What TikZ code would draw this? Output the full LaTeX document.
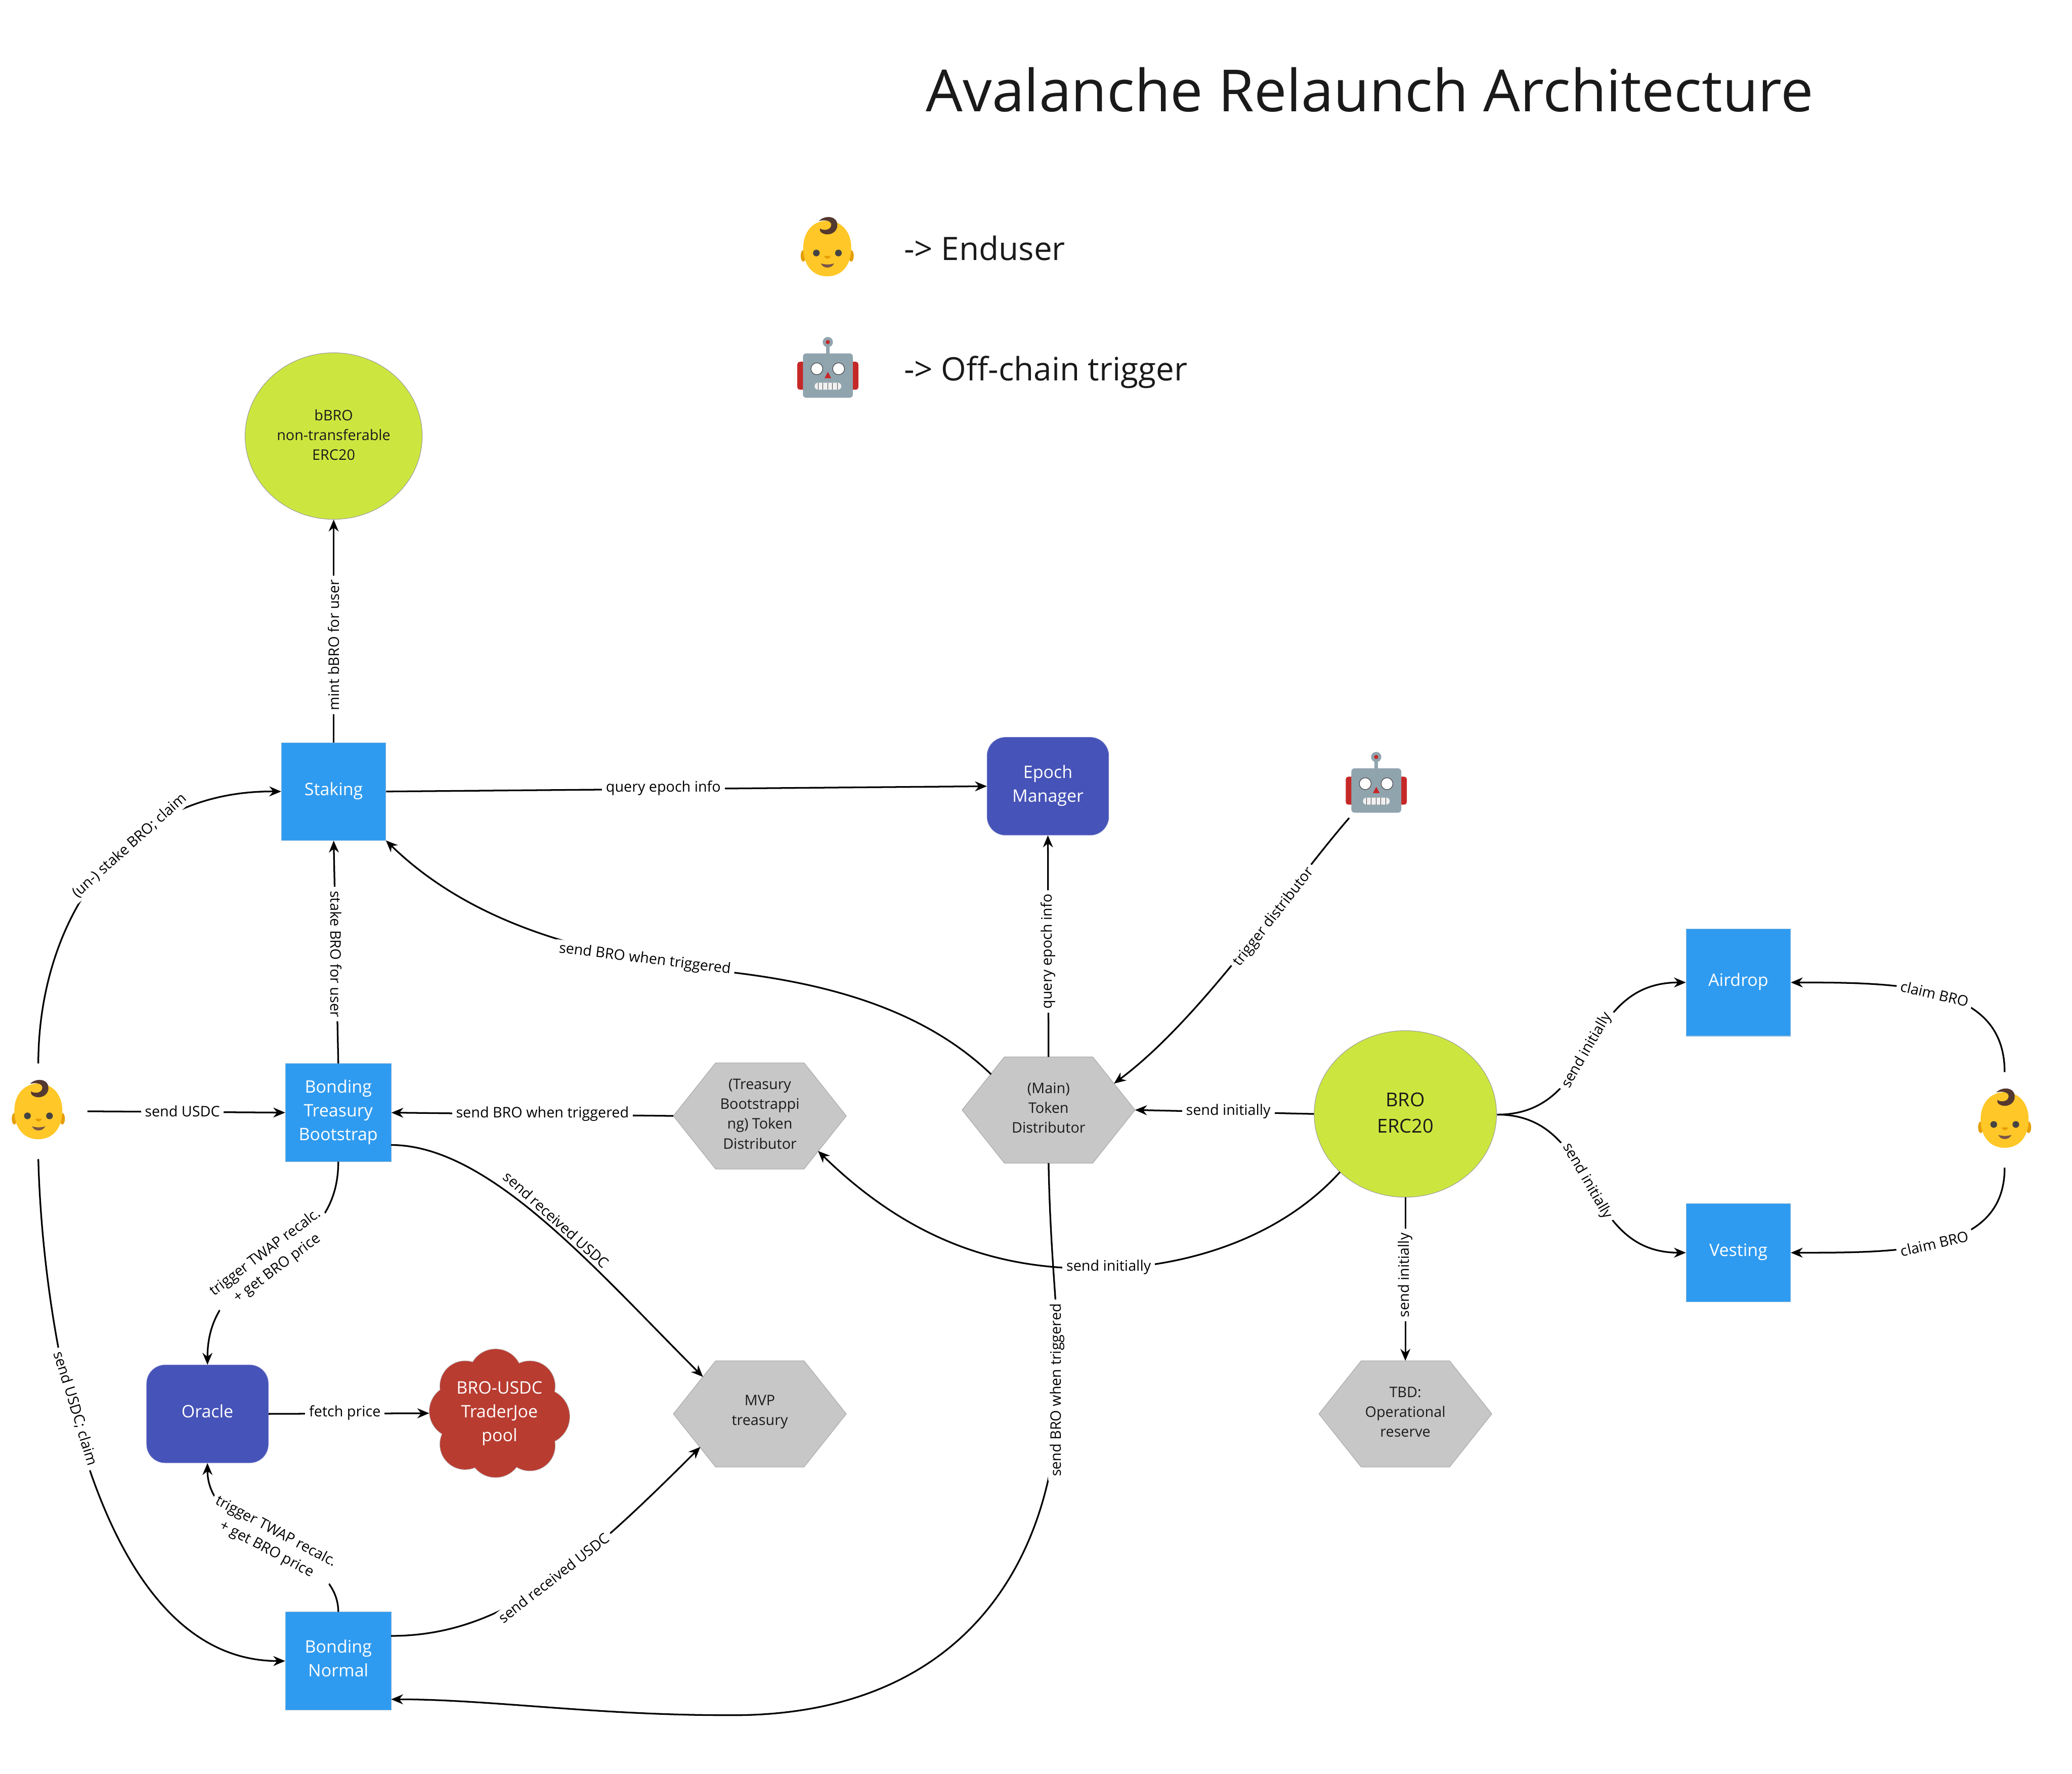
\documentclass[tikz,border=0pt]{standalone}
\usepackage{fontspec}
\setmainfont{Open Sans}
\usetikzlibrary{arrows.meta,shapes.geometric}
\definecolor{cblue}{HTML}{2F9BF0}
\definecolor{cindigo}{HTML}{4653B8}
\definecolor{cgreen}{HTML}{CDE63F}
\definecolor{cgrey}{HTML}{C7C7C7}
\definecolor{cred}{HTML}{B93C31}
\definecolor{cink}{HTML}{1A1A1A}
\definecolor{cyel}{HTML}{FFC727}
\definecolor{cear}{HTML}{E59E05}
\definecolor{chair}{HTML}{543930}
\definecolor{ceye}{HTML}{444444}
\definecolor{cmouth}{HTML}{795548}
\definecolor{cgun}{HTML}{90A4AE}
\definecolor{crob}{HTML}{C62828}
\newcommand{\hexnode}[4]{%
  \node (#1) [hexframe] at (#2,#3) {};
  \filldraw[hexface] (#1.west) -- ([xshift=32pt]#1.north west) -- ([xshift=-32pt]#1.north east) -- (#1.east) -- ([xshift=-32pt]#1.south east) -- ([xshift=32pt]#1.south west) -- cycle;
  \node (#1text) [hextext,yshift=1.5pt] at (#1) {#4};
}
\tikzset{
  x=1pt,y=-1pt,
  boxn/.style={rectangle,draw=cblue!80!black!60,line width=.4pt,fill=cblue,text=white,inner sep=0pt,align=center,text depth=4pt,font=\fontsize{13}{18}\selectfont},
  roundn/.style={boxn,rounded corners=14pt,fill=cindigo,draw=cindigo!80},
  oval/.style={ellipse,draw=black!40,line width=.4pt,fill=cgreen,inner sep=0pt,align=center,text=cink,text depth=2pt},
  hexframe/.style={rectangle,minimum width=130.5pt,minimum height=80pt,inner sep=0pt},
  hexface/.style={fill=cgrey,draw=black!35,line width=.4pt},
  hextext/.style={rectangle,inner sep=0pt,align=center,text=cink,font=\fontsize{11}{15}\selectfont},
  lab/.style={fill=white,inner xsep=3pt,inner ysep=1.5pt,align=center,text=black,font=\fontsize{11}{15}\selectfont},
  emojibox/.style={rectangle,minimum width=74pt,minimum height=72pt,inner sep=0pt},
  conn/.style={-{Stealth[length=9pt,width=7.5pt]},line width=1.25pt,black},
  baby/.pic={
    \begin{scope}[scale=0.121,shift={(-320,-281)}]
      \fill[cear] (170,340) ellipse [x radius=16,y radius=36];
      \fill[cear] (470,340) ellipse [x radius=16,y radius=36];
      \fill[cyel] (320,120) .. controls (410,120) and (470,190) .. (470,290) .. controls (470,400) and (410,468) .. (320,468) .. controls (230,468) and (170,400) .. (170,290) .. controls (170,190) and (230,120) .. (320,120) -- cycle;
      \fill[chair] (268,122) .. controls (300,85) and (385,85) .. (383,150) .. controls (382,200) and (320,220) .. (285,195) .. controls (275,187) and (272,178) .. (274,168) .. controls (295,185) and (345,180) .. (345,145) .. controls (345,118) and (300,112) .. (268,122) -- cycle;
      \fill[ceye] (252,322) circle [radius=21];
      \fill[ceye] (390,322) circle [radius=21];
      \fill[cear] (302,342) .. controls (310,339) and (332,339) .. (341,342) .. controls (338,352) and (328,358) .. (321,358) .. controls (314,358) and (305,352) .. (302,342) -- cycle;
      \fill[cmouth] (280,387) .. controls (305,396) and (338,396) .. (363,387) .. controls (355,405) and (338,413) .. (321,413) .. controls (304,413) and (288,405) .. (280,387) -- cycle;
    \end{scope}
  },
  robot/.pic={
    \begin{scope}[scale=0.121,shift={(-321,-1040)}]
      \fill[crob,rounded corners=16pt*0.121] (130,1005) rectangle (200,1180);
      \fill[crob,rounded corners=16pt*0.121] (442,1005) rectangle (512,1180);
      \fill[cgun] (310,882) rectangle (331,960);
      \fill[cgun] (320.5,882) circle [radius=32];
      \fill[crob] (320.5,882) circle [radius=13];
      \fill[cgun,rounded corners=2.4pt] (165,953) rectangle (477,1230);
      \fill[white,draw=ceye,line width=.45pt] (252,1049) circle [radius=37];
      \fill[white,draw=ceye,line width=.45pt] (388,1049) circle [radius=37];
      \fill[crob] (300,1108) -- (342,1108) -- (321,1068) -- cycle;
      \fill[black!6,rounded corners=2.6pt] (238,1136) rectangle (405,1180);
      \foreach \mx in {261,290,320,350,380} {\draw[ceye,line width=.45pt] (\mx,1136) -- (\mx,1180);}
    \end{scope}
  }
}
\begin{document}
\begin{tikzpicture}
\useasboundingbox[fill=white] (0,0) rectangle (1568,1342.4);

% Title and legend
\node (title) [text=cink,font=\fontsize{44}{53}\selectfont,anchor=center] at (1036.5,68) {Avalanche Relaunch Architecture};
\pic at (626,186.5) {baby};
\pic at (626.5,278) {robot};
\node (legenda) [text=cink,font=\fontsize{24.4}{30}\selectfont,anchor=base west,inner sep=0pt] at (684,197) {-> Enduser};
\node (legendb) [text=cink,font=\fontsize{24.4}{30}\selectfont,anchor=base west,inner sep=0pt] at (684,288) {-> Off-chain trigger};

% Nodes
\node (bbro) [oval,minimum width=134pt,minimum height=126pt,font=\fontsize{11}{15}\selectfont] at (252.5,330) {bBRO\\non-transferable\\ERC20};
\node (staking) [boxn,minimum width=79pt,minimum height=74pt] at (252.5,599) {Staking};
\node (epoch) [roundn,minimum width=92pt,minimum height=74pt] at (793,595) {Epoch\\Manager};
\node (airdrop) [boxn,minimum width=79pt,minimum height=81pt] at (1315.5,743.5) {Airdrop};
\node (vesting) [boxn,minimum width=79pt,minimum height=74pt] at (1315.5,948) {Vesting};
\node (bro) [oval,minimum width=138pt,minimum height=126pt,font=\fontsize{14.5}{20}\selectfont] at (1063.5,843) {BRO\\ERC20};
\hexnode{main}{793.5}{840}{(Main)\\Token\\Distributor}
\hexnode{tdist}{575}{844.5}{(Treasury\\Bootstrappi\\ng) Token\\Distributor}
\hexnode{mvp}{575}{1070}{MVP\\treasury}
\hexnode{tbd}{1063.5}{1070}{TBD:\\Operational\\reserve}
\node (bt) [boxn,minimum width=80pt,minimum height=74pt] at (256,842) {Bonding\\Treasury\\Bootstrap};
\node (oracle) [roundn,minimum width=92pt,minimum height=74pt] at (157,1070) {Oracle};
\node (bn) [boxn,minimum width=80pt,minimum height=74pt] at (256,1257) {Bonding\\Normal};
% cloud
\foreach \cx/\cy/\cr in {375/1041/20,352/1049/19,401/1049/19,345/1068/20,410/1072/21,352/1093/19,401/1094/19,375/1098/20}
  {\draw[black!25,line width=.8pt] (\cx,\cy) circle [radius=\cr];}
\foreach \cx/\cy/\cr in {375/1041/20,352/1049/19,401/1049/19,345/1068/20,410/1072/21,352/1093/19,401/1094/19,375/1098/20}
  {\fill[cred] (\cx,\cy) circle [radius=\cr];}
\fill[cred] (378,1070) circle [radius=34];
\node (pool) [rectangle,minimum width=106pt,minimum height=97pt,inner sep=0pt,text=white,align=center,font=\fontsize{13}{18}\selectfont] at (378,1069.5) {BRO-USDC\\TraderJoe\\pool};

% Emoji actors
\node (babyl) [emojibox] at (29,841) {};
\pic at (29,839.5) {baby};
\node (babyr) [emojibox] at (1517,847.5) {};
\pic at (1517,846) {baby};
\node (robo) [emojibox] at (1041,592) {};
\pic at (1041.5,592) {robot};

% Free ends of connectors
\coordinate (robout) at (1021,619);
\coordinate (mainne) at (843,820);
\coordinate (mainnw) at (750,813);
\coordinate (stse) at (292,636);
\coordinate (brosw) at (1014,887);
\coordinate (tdse) at (619,871);
\coordinate (btes) at (296,866.5);
\coordinate (mvpnw) at (532,1042);
\coordinate (bnen) at (296,1238);
\coordinate (mvpsw) at (530,1095);
\coordinate (bnes) at (296,1286);
\coordinate (broes) at (1133,843.5);

% Connectors
\draw[conn] (staking) -- (bbro);
\draw[conn] (staking.east) -- (epoch.west);
\draw[conn] (main.north) -- (epoch.south);
\draw[conn] (robout) .. controls (975,672) and (910,770) .. (mainne);
\draw[conn] (mainnw) .. controls (700,765) and (630,745) .. (555,736) .. controls (480,727) and (370,712) .. (stse);
\draw[conn] (babyl.north) .. controls (29,700) and (90,598) .. (staking.west);
\draw[conn] (babyl.east) -- (bt.west);
\draw[conn] (babyl.south) .. controls (32,1000) and (70,1257) .. (bn.west);
\draw[conn] (bt.north) -- (staking.south);
\draw[conn] (tdist.west) -- (bt.east);
\draw[conn] (bro.west) -- (main.east);
\draw[conn] (brosw) .. controls (975,930) and (920,950) .. (872,957) .. controls (780,968) and (700,950) .. (tdse);
\draw[conn] (bro.south) -- (tbd.north);
\draw[conn] (broes) .. controls (1210,843.5) and (1195,743.5) .. (airdrop.west);
\draw[conn] (broes) .. controls (1210,843.5) and (1195,948) .. (vesting.west);
\draw[conn] (babyr.north) .. controls (1517,745) and (1440,743.5) .. (airdrop.east);
\draw[conn] (babyr.south) .. controls (1517,948) and (1440,948) .. (vesting.east);
\draw[conn] (bt.south) .. controls (256,960) and (157,950) .. (oracle.north);
\draw[conn] (btes) .. controls (370,866.5) and (450,960) .. (mvpnw);
\draw[conn] (oracle.east) -- (pool.west);
\draw[conn] (bn.north) .. controls (256,1170) and (157,1165) .. (oracle.south);
\draw[conn] (bnen) .. controls (380,1238) and (440,1185) .. (mvpsw);
\draw[conn] (main.south) .. controls (795,960) and (802,1000) .. (801,1050) .. controls (800,1180) and (730,1300) .. (550,1298) .. controls (450,1298) and (370,1286) .. (bnes);

% Connector labels
\node (l1) [lab,rotate=90] at (252.5,488) {mint bBRO for user};
\node (l2) [lab] at (502,596.5) {query epoch info};
\node (l3) [lab,rotate=90] at (793,720) {query epoch info};
\node (l4) [lab,rotate=52] at (964,694) {trigger distributor};
\node (l5) [lab,rotate=-7] at (488,726) {send BRO when triggered};
\node (l6) [lab,rotate=42] at (98,640) {(un-) stake BRO; claim};
\node (l7) [lab] at (138,841) {send USDC};
\node (l8) [lab,rotate=-73] at (57,1066) {send USDC; claim};
\node (l9) [lab,rotate=-90] at (254.5,722) {stake BRO for user};
\node (l10) [lab] at (410.5,843) {send BRO when triggered};
\node (l11) [lab] at (929.5,841) {send initially};
\node (l12) [lab] at (839,959) {send initially};
\node (l13) [lab,rotate=90] at (1063.5,965) {send initially};
\node (l14) [lab,rotate=60] at (1201,795) {send initially};
\node (l15) [lab,rotate=-60] at (1201,894) {send initially};
\node (l16) [lab,rotate=-13] at (1464,752) {claim BRO};
\node (l17) [lab,rotate=13] at (1464,941) {claim BRO};
\node (l18) [lab,rotate=37] at (205.5,954) {trigger TWAP recalc.\\+ get BRO price\hspace{20pt}};
\node (l19) [lab,rotate=-42] at (421,923) {send received USDC};
\node (l20) [lab] at (261,1069) {fetch price};
\node (l21) [lab,rotate=-28] at (205.2,1166) {trigger TWAP recalc.\\+ get BRO price\hspace{20pt}};
\node (l22) [lab,rotate=38] at (419,1194) {send received USDC};
\node (l23) [lab,rotate=90] at (800,1052) {send BRO when triggered};
\end{tikzpicture}
\end{document}
